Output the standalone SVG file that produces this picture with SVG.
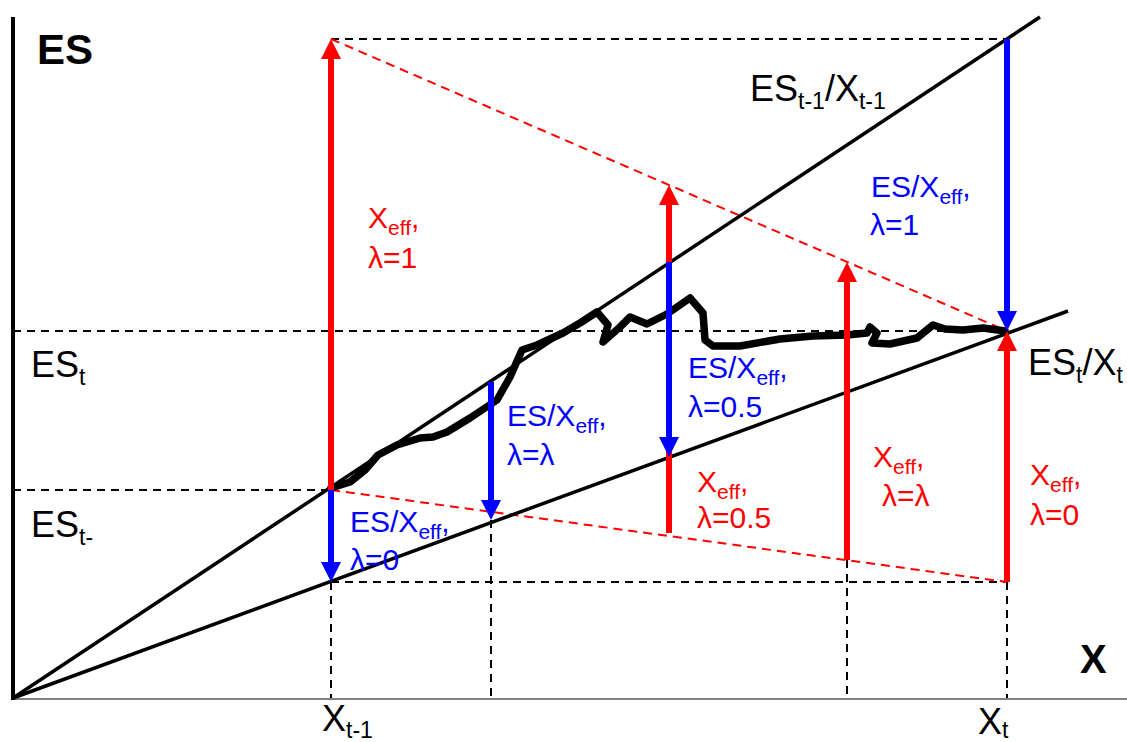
<svg xmlns="http://www.w3.org/2000/svg" width="1127" height="742" viewBox="0 0 1127 742">
<style>
.dk{stroke:#000;stroke-width:2;stroke-dasharray:8 6;fill:none}
.dr{stroke:#f00;stroke-width:2;stroke-dasharray:9 6;fill:none}
.ln{stroke:#000;stroke-width:3.5;fill:none}
.ar{stroke:#f00;stroke-width:6;fill:none}
.ab{stroke:#00f;stroke-width:6;fill:none}
text{font-family:"Liberation Sans",Arial,sans-serif}
.c{font-size:30px}
.k{font-size:36px;fill:#000}
.r{fill:#f00}
.b{fill:#00f}
</style>
<defs>
<marker id="hr" markerUnits="userSpaceOnUse" markerWidth="20" markerHeight="20" refX="0" refY="10" orient="auto" viewBox="0 0 20 20"><path d="M0,0 L20,10 L0,20 z" fill="#f00"/></marker>
<marker id="hb" markerUnits="userSpaceOnUse" markerWidth="20" markerHeight="20" refX="0" refY="10" orient="auto" viewBox="0 0 20 20"><path d="M0,0 L20,10 L0,20 z" fill="#00f"/></marker>
</defs>
<rect width="1127" height="742" fill="#fff"/>
<g id="guides">
<line class="dk" x1="331" y1="39" x2="1007" y2="39"/>
<line class="dk" x1="13" y1="331" x2="1007" y2="331"/>
<line class="dk" x1="13" y1="490" x2="331" y2="490"/>
<line class="dk" x1="331" y1="582" x2="1007" y2="582"/>
<line class="dk" x1="331" y1="582" x2="331" y2="698"/>
<line class="dk" x1="491" y1="520" x2="491" y2="698"/>
<line class="dk" x1="847" y1="560" x2="847" y2="698"/>
<line class="dk" x1="1007" y1="582" x2="1007" y2="698"/>
<line class="dr" x1="331" y1="39" x2="1007" y2="331"/>
<line class="dr" x1="331" y1="490" x2="1007" y2="582"/>
</g>
<g id="axes">
<line x1="13" y1="699" x2="1127" y2="699" stroke="#808080" stroke-width="2"/>
<line x1="13" y1="17" x2="13" y2="700" stroke="#000" stroke-width="4"/>
</g>
<g id="rays">
<line class="ln" x1="13" y1="698" x2="1040" y2="17"/>
<line class="ln" x1="13" y1="698" x2="1068" y2="311"/>
</g>
<g id="path">
<polyline fill="none" stroke="#000" stroke-width="7.5" stroke-linejoin="round" stroke-linecap="round" points="331,488 350,482 365,470 378,455 397,445 420,438 433,437 447,432 470,418 497,400 510,377 522,350 537,345 563,333 580,323 597,312 608,325 603,342 620,327 630,317 647,324 667,314 690,298 703,313 705,340 713,346 740,346 780,339 813,336 847,335 867,333 870,327 877,333 872,343 890,344 917,338 933,325 945,329 963,330 983,328 1005,331"/>
</g>
<g id="arrows">
<line class="ar" x1="331" y1="490" x2="331" y2="59" marker-end="url(#hr)"/>
<line class="ar" x1="669" y1="533" x2="669" y2="205" marker-end="url(#hr)"/>
<line class="ar" x1="847" y1="560" x2="847" y2="282" marker-end="url(#hr)"/>
<line class="ar" x1="1007" y1="582" x2="1007" y2="351" marker-end="url(#hr)"/>
<line class="ab" x1="331" y1="490" x2="331" y2="562" marker-end="url(#hb)"/>
<line class="ab" x1="491" y1="382" x2="491" y2="500" marker-end="url(#hb)"/>
<line class="ab" x1="669" y1="262" x2="669" y2="437" marker-end="url(#hb)"/>
<line class="ab" x1="1007" y1="39" x2="1007" y2="311" marker-end="url(#hb)"/>
</g>
<g id="labels">
<text x="37" y="64" font-size="42" font-weight="bold">ES</text>
<text x="1080" y="673" font-size="40" font-weight="bold">X</text>
<text class="k" x="31" y="377">ES<tspan dy="8" font-size="23">t</tspan></text>
<text class="k" x="31" y="537">ES<tspan dy="8" font-size="23">t-</tspan></text>
<text class="k" x="750" y="101">ES<tspan dy="8" font-size="23">t-1</tspan><tspan dy="-8">/X</tspan><tspan dy="8" font-size="23">t-1</tspan></text>
<text class="k" x="1028" y="375">ES<tspan dy="8" font-size="23">t</tspan><tspan dy="-8">/X</tspan><tspan dy="8" font-size="23">t</tspan></text>
<text class="k" x="322" y="731">X<tspan dy="7" font-size="23">t-1</tspan></text>
<text class="k" x="978" y="734">X<tspan dy="4" font-size="23">t</tspan></text>

<text class="c r" x="368" y="228">X<tspan dy="7" font-size="21">eff</tspan><tspan dy="-7">,</tspan></text>
<text class="c r" x="368" y="268">λ=1</text>
<text class="c b" x="871" y="197">ES/X<tspan dy="7" font-size="21">eff</tspan><tspan dy="-7">,</tspan></text>
<text class="c b" x="870" y="235">λ=1</text>
<text class="c b" x="507" y="426">ES/X<tspan dy="7" font-size="21">eff</tspan><tspan dy="-7">,</tspan></text>
<text class="c b" x="507" y="465">λ=λ</text>
<text class="c b" x="350" y="532">ES/X<tspan dy="7" font-size="21">eff</tspan><tspan dy="-7">,</tspan></text>
<text class="c b" x="350" y="570">λ=0</text>
<text class="c b" x="688" y="378">ES/X<tspan dy="7" font-size="21">eff</tspan><tspan dy="-7">,</tspan></text>
<text class="c b" x="688" y="417">λ=0.5</text>
<text class="c r" x="697" y="492">X<tspan dy="7" font-size="21">eff</tspan><tspan dy="-7">,</tspan></text>
<text class="c r" x="697" y="528">λ=0.5</text>
<text class="c r" x="873" y="467">X<tspan dy="7" font-size="21">eff</tspan><tspan dy="-7">,</tspan></text>
<text class="c r" x="882" y="506">λ=λ</text>
<text class="c r" x="1030" y="485">X<tspan dy="7" font-size="21">eff</tspan><tspan dy="-7">,</tspan></text>
<text class="c r" x="1030" y="525">λ=0</text>
</g>
</svg>
